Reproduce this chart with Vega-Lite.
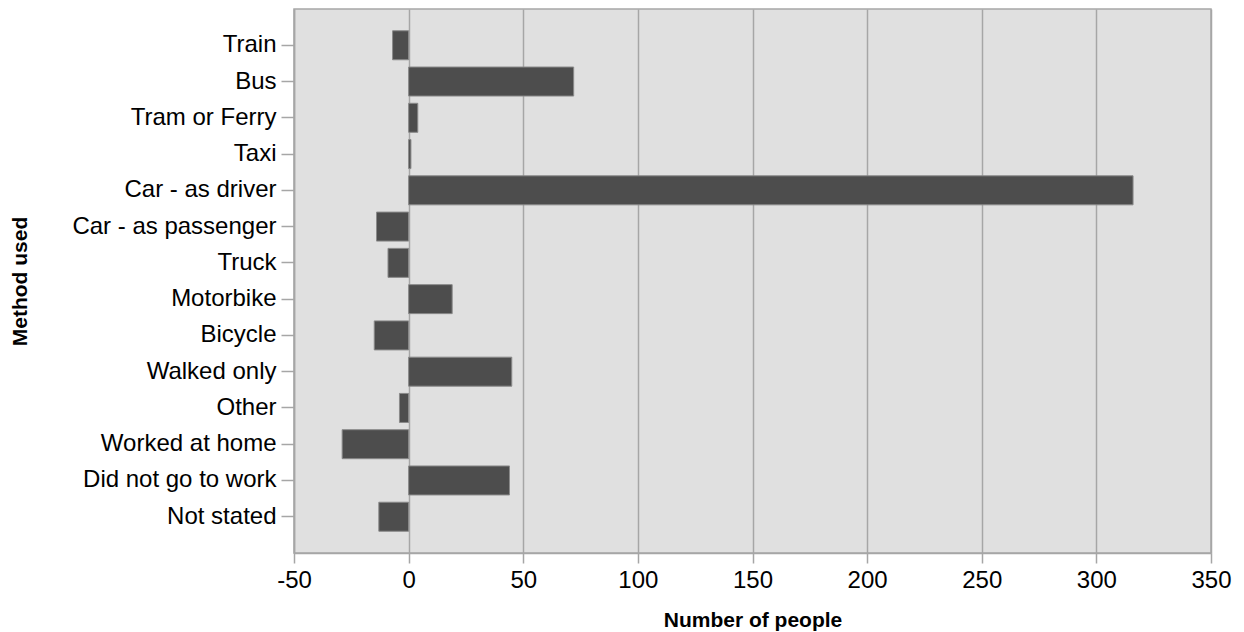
{
  "$schema": "https://vega.github.io/schema/vega-lite/v6.json",
  "autosize": "none",
  "width": 917,
  "height": 544,
  "padding": {"left": 294, "top": 9, "right": 33, "bottom": 79},
  "background": "white",
  "config": {
    "view": {"fill": "#e0e0e0", "stroke": "#a6a6a6", "strokeWidth": 1.5},
    "font": "Liberation Sans"
  },
  "data": {
    "values": [
      {"method": "Train", "people": -7},
      {"method": "Bus", "people": 72},
      {"method": "Tram or Ferry", "people": 4},
      {"method": "Taxi", "people": 1},
      {"method": "Car - as driver", "people": 316},
      {"method": "Car - as passenger", "people": -14},
      {"method": "Truck", "people": -9},
      {"method": "Motorbike", "people": 19},
      {"method": "Bicycle", "people": -15},
      {"method": "Walked only", "people": 45},
      {"method": "Other", "people": -4},
      {"method": "Worked at home", "people": -29},
      {"method": "Did not go to work", "people": 44},
      {"method": "Not stated", "people": -13}
    ]
  },
  "mark": {"type": "bar", "color": "#4d4d4d", "stroke": "#8a8a8a", "strokeWidth": 1},
  "encoding": {
    "y": {
      "field": "method",
      "type": "nominal",
      "sort": null,
      "scale": {"paddingInner": 0.2, "paddingOuter": 0.6},
      "axis": {
        "title": "Method used",
        "titleFont": "Liberation Sans",
        "titleFontWeight": "bold",
        "titleFontSize": 21,
        "titleColor": "black",
        "titleAngle": -90,
        "titleX": -274,
        "titleY": 272,
        "titleAlign": "center",
        "titleBaseline": "middle",
        "labelFont": "Liberation Sans",
        "labelFontSize": 24,
        "labelColor": "black",
        "labelLimit": 0,
        "labelPadding": 5,
        "tickSize": 13,
        "tickColor": "#a6a6a6",
        "tickWidth": 1.5,
        "domainColor": "#a6a6a6",
        "domainWidth": 1.5,
        "grid": false
      }
    },
    "x": {
      "field": "people",
      "type": "quantitative",
      "scale": {"domain": [-50, 350], "nice": false, "zero": false},
      "axis": {
        "title": "Number of people",
        "titleFont": "Liberation Sans",
        "titleFontWeight": "bold",
        "titleFontSize": 21,
        "titleColor": "black",
        "titleY": 67,
        "titleBaseline": "middle",
        "values": [-50, 0, 50, 100, 150, 200, 250, 300, 350],
        "labelExpr": "datum.value < 0 ? '-' + abs(datum.value) : '' + datum.value",
        "labelFont": "Liberation Sans",
        "labelFontSize": 24,
        "labelColor": "black",
        "labelPadding": 5,
        "labelFlush": false,
        "tickSize": 10,
        "tickColor": "#a6a6a6",
        "tickWidth": 1.5,
        "domainColor": "#a6a6a6",
        "domainWidth": 1.5,
        "grid": true,
        "gridColor": "#a6a6a6",
        "gridWidth": 1.5
      }
    }
  }
}
